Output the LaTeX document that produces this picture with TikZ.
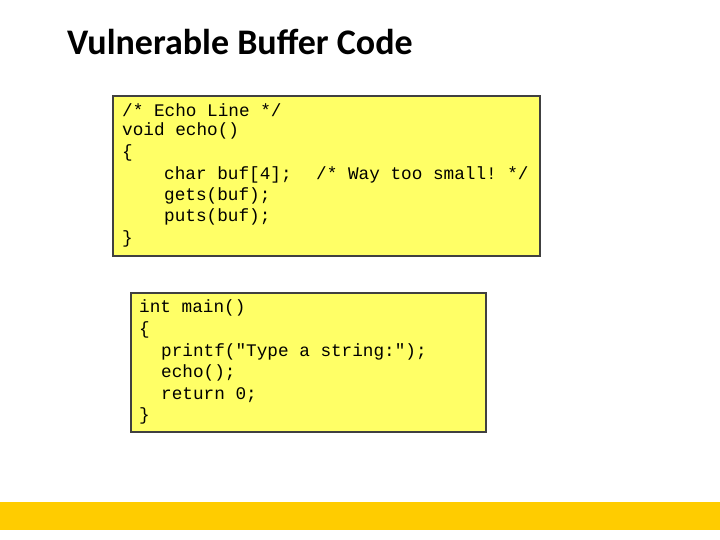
\documentclass[tikz,border=0pt]{standalone}
\usepackage{fontspec}
\setmainfont{Carlito}
\setmonofont{Liberation Mono}
\definecolor{barc}{RGB}{255,204,0}
\definecolor{boxc}{RGB}{255,255,102}
\begin{document}
\begin{tikzpicture}[x=1pt,y=-1pt,
  code/.style={anchor=west,inner sep=0pt,font=\fontsize{17.7}{20}\selectfont\ttfamily},
  codebox/.style={draw=black!75,line width=1.2pt,fill=boxc}]
\useasboundingbox (0,0) rectangle (720,540);
\fill[white] (0,0) rectangle (720,540);
\node[anchor=west,inner sep=0pt,font=\fontsize{36}{40}\selectfont\bfseries] (title) at (67,42) {Vulnerable Buffer Code};
\draw[codebox] (113,96) rectangle (540,256);
\node[code] (a1) at (122,110) {/* Echo Line */};
\node[code] (a2) at (122,131) {void echo()};
\node[code] (a3) at (122,153) {\{};
\node[code] (a4) at (164,175) {char buf[4];};
\node[code] (a4c) at (316,175) {/* Way too small! */};
\node[code] (a5) at (164,196) {gets(buf);};
\node[code] (a6) at (164,217) {puts(buf);};
\node[code] (a7) at (122,239) {\}};
\draw[codebox] (131,293) rectangle (486,432);
\node[code] (b1) at (139,308) {int main()};
\node[code] (b2) at (139,330) {\{};
\node[code] (b3) at (161,352) {printf("Type a string:");};
\node[code] (b4) at (161,373) {echo();};
\node[code] (b5) at (161,395) {return 0;};
\node[code] (b6) at (139,416) {\}};
\fill[barc] (0,502) rectangle (720,530);
\end{tikzpicture}
\end{document}
